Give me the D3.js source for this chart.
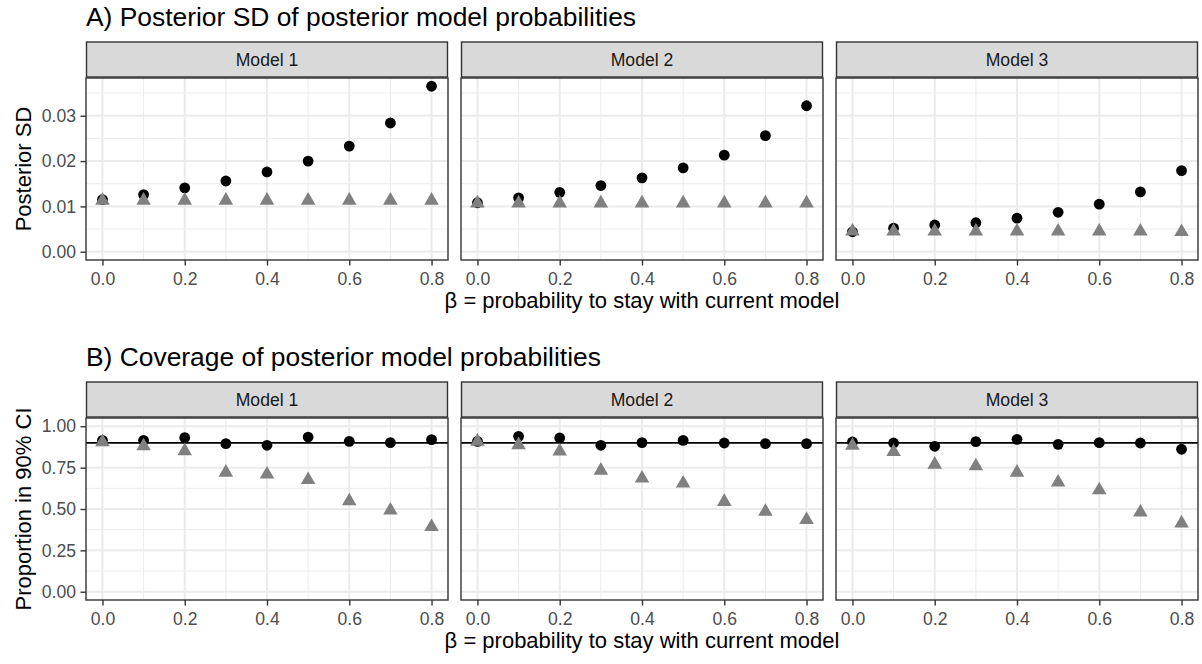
<!DOCTYPE html>
<html>
<head>
<meta charset="utf-8">
<script src="https://cdn.jsdelivr.net/npm/d3@7"></script>
<style>
  body { margin: 0; background: #fff; }
  text { font-family: "Liberation Sans", Arial, sans-serif; }
</style>
</head>
<body>
<div id="root"></div>
<script>
var w = 1202,
    h = 664;

// data
var models = ['Model 1', 'Model 2', 'Model 3'];
var betas = [0.0, 0.1, 0.2, 0.3, 0.4, 0.5, 0.6, 0.7, 0.8];

// A) posterior SD, circles (black) and triangles (grey) per model
var sdCircle = [
  [0.0115, 0.0126, 0.0141, 0.0156, 0.0176, 0.0200, 0.0233, 0.0284, 0.0365],
  [0.0108, 0.0119, 0.0131, 0.0146, 0.0163, 0.0185, 0.0213, 0.0256, 0.0322],
  [0.0044, 0.0052, 0.0059, 0.0064, 0.0074, 0.0087, 0.0105, 0.0132, 0.0179]
];
var sdTriangle = [
  [0.0113, 0.0113, 0.0113, 0.0113, 0.0113, 0.0113, 0.0113, 0.0113, 0.0113],
  [0.0107, 0.0107, 0.0107, 0.0107, 0.0107, 0.0107, 0.0107, 0.0107, 0.0107],
  [0.0045, 0.0045, 0.0045, 0.0045, 0.0045, 0.0045, 0.0045, 0.0045, 0.0044]
];

// B) coverage of 90% CI
var covCircle = [
  [0.915, 0.915, 0.931, 0.895, 0.885, 0.935, 0.909, 0.901, 0.919],
  [0.909, 0.939, 0.929, 0.885, 0.901, 0.915, 0.899, 0.895, 0.895],
  [0.905, 0.899, 0.879, 0.907, 0.921, 0.891, 0.901, 0.899, 0.861]
];
var covTriangle = [
  [0.905, 0.880, 0.851, 0.721, 0.709, 0.676, 0.548, 0.492, 0.392],
  [0.908, 0.887, 0.849, 0.733, 0.685, 0.655, 0.544, 0.484, 0.434],
  [0.883, 0.845, 0.769, 0.759, 0.721, 0.661, 0.614, 0.480, 0.414]
];
var nominal = 0.9;

var sdTicks = [0, 0.01, 0.02, 0.03],
    sdMinor = [0.005, 0.015, 0.025, 0.035],
    covTicks = [0, 0.25, 0.5, 0.75, 1],
    covMinor = [0.125, 0.375, 0.625, 0.875],
    xTicks = [0, 0.2, 0.4, 0.6, 0.8],
    xMinor = [0.1, 0.3, 0.5, 0.7];

var xTitle = '\u03b2 = probability to stay with current model';

var svg = d3.select('#root')
  .append('svg')
    .attr('width', w)
    .attr('height', h);

// layout
var panelLeft = [86, 461, 836],
    panelW = 362,
    stripTop = 42,
    stripH = 36,
    panelTop = 78,
    panelH = 182;

var tickFont = '17.6px',
    titleFont = '26.4px',
    axisTitleFont = '22px';

function expand(lo, hi) {
  var d = (hi - lo) * 0.05;
  return [lo - d, hi + d];
}

var x = d3.scaleLinear().domain(expand(0, 0.8)).range([0, panelW]);

function trianglePath(r) {
  var xc = r * Math.sqrt(3) / 2;
  return 'M0,' + (-r) + 'L' + xc + ',' + (r / 2) + 'L' + (-xc) + ',' + (r / 2) + 'Z';
}

function styleAxis(ax) {
  ax.select('.domain').remove();
  ax.selectAll('line').attr('stroke', '#333333').attr('stroke-width', 1.4);
  ax.selectAll('text')
    .style('font-size', tickFont)
    .style('fill', '#4D4D4D')
    .style('font-family', '"Liberation Sans", Arial, sans-serif');
}

function drawBlock(offset, opts) {
  var g = svg.append('g').attr('transform', 'translate(0,' + offset + ')');

  var y = d3.scaleLinear().domain(opts.domain).range([panelH, 0]);

  g.append('text')
    .attr('x', panelLeft[0])
    .attr('y', 26)
    .style('font-size', titleFont)
    .style('fill', '#000')
    .text(opts.title);

  models.forEach(function (m, i) {
    var p = g.append('g')
      .attr('transform', 'translate(' + panelLeft[i] + ',' + panelTop + ')');

    // strip
    g.append('rect')
      .attr('x', panelLeft[i] + 0.5)
      .attr('y', stripTop)
      .attr('width', panelW - 1)
      .attr('height', stripH - 1)
      .attr('fill', '#D9D9D9')
      .attr('stroke', '#333333')
      .attr('stroke-width', 1.4);
    g.append('text')
      .attr('x', panelLeft[i] + panelW / 2)
      .attr('y', stripTop + stripH / 2)
      .attr('dy', '0.35em')
      .attr('text-anchor', 'middle')
      .style('font-size', tickFont)
      .style('fill', '#1A1A1A')
      .text(m);

    // grid
    p.selectAll('.ymin').data(opts.minor).enter().append('line')
      .attr('x1', 0).attr('x2', panelW)
      .attr('y1', function (d) { return y(d); })
      .attr('y2', function (d) { return y(d); })
      .attr('stroke', '#EBEBEB').attr('stroke-width', 1);
    p.selectAll('.xmin').data(xMinor).enter().append('line')
      .attr('y1', 0).attr('y2', panelH)
      .attr('x1', function (d) { return x(d); })
      .attr('x2', function (d) { return x(d); })
      .attr('stroke', '#EBEBEB').attr('stroke-width', 1);
    p.selectAll('.ymaj').data(opts.ticks).enter().append('line')
      .attr('x1', 0).attr('x2', panelW)
      .attr('y1', function (d) { return y(d); })
      .attr('y2', function (d) { return y(d); })
      .attr('stroke', '#EBEBEB').attr('stroke-width', 2);
    p.selectAll('.xmaj').data(xTicks).enter().append('line')
      .attr('y1', 0).attr('y2', panelH)
      .attr('x1', function (d) { return x(d); })
      .attr('x2', function (d) { return x(d); })
      .attr('stroke', '#EBEBEB').attr('stroke-width', 2);

    if (opts.hline != null) {
      p.append('line')
        .attr('x1', 0).attr('x2', panelW)
        .attr('y1', y(opts.hline)).attr('y2', y(opts.hline))
        .attr('stroke', '#000').attr('stroke-width', 1.8);
    }

    // points: circles first, triangles on top
    p.selectAll('.pt').data(betas).enter().append('circle')
      .attr('cx', function (d) { return x(d); })
      .attr('cy', function (d, j) { return y(opts.circle[i][j]); })
      .attr('r', 5.4)
      .attr('fill', '#000');
    p.selectAll('.tri').data(betas).enter().append('path')
      .attr('d', trianglePath(8.4))
      .attr('transform', function (d, j) {
        return 'translate(' + x(d) + ',' + y(opts.triangle[i][j]) + ')';
      })
      .attr('fill', '#808080');

    // border
    p.append('rect')
      .attr('x', 0).attr('y', 0)
      .attr('width', panelW).attr('height', panelH)
      .attr('fill', 'none')
      .attr('stroke', '#333333')
      .attr('stroke-width', 1.4);

    // x axis
    var xa = p.append('g')
      .attr('transform', 'translate(0,' + panelH + ')')
      .call(d3.axisBottom(x).tickValues(xTicks).tickFormat(d3.format('.1f'))
        .tickSize(5.5).tickPadding(7));
    styleAxis(xa);

    if (i === 0) {
      var ya = p.append('g')
        .call(d3.axisLeft(y).tickValues(opts.ticks).tickFormat(opts.fmt)
          .tickSize(5.5).tickPadding(4.5));
      styleAxis(ya);
    }
  });

  // axis titles
  g.append('text')
    .attr('x', (panelLeft[0] + panelLeft[2] + panelW) / 2)
    .attr('y', 308)
    .attr('text-anchor', 'middle')
    .style('font-size', axisTitleFont)
    .style('fill', '#000')
    .text(xTitle);

  g.append('text')
    .attr('transform', 'translate(31,' + (panelTop + panelH / 2) + ') rotate(-90)')
    .attr('text-anchor', 'middle')
    .style('font-size', axisTitleFont)
    .style('fill', '#000')
    .text(opts.yTitle);
}

drawBlock(0, {
  title: 'A) Posterior SD of posterior model probabilities',
  yTitle: 'Posterior SD',
  domain: expand(0, 0.0365),
  ticks: sdTicks,
  minor: sdMinor,
  fmt: d3.format('.2f'),
  circle: sdCircle,
  triangle: sdTriangle,
  hline: null
});

drawBlock(340, {
  title: 'B) Coverage of posterior model probabilities',
  yTitle: 'Proportion in 90% CI',
  domain: expand(0, 1),
  ticks: covTicks,
  minor: covMinor,
  fmt: d3.format('.2f'),
  circle: covCircle,
  triangle: covTriangle,
  hline: nominal
});
</script>
</body>
</html>
